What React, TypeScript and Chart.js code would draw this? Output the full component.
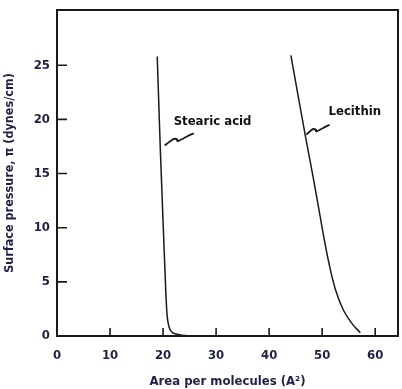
import React, { useEffect, useRef } from "react";
import { Chart, registerables } from "chart.js";

Chart.register(...registerables);

const stearicArea = [18.9, 19.5, 20.2, 20.7, 21.1, 21.7, 22.5, 23.5, 25.4];
const stearicPressure = [25.8, 17.0, 8.0, 2.3, 0.9, 0.35, 0.18, 0.08, 0.0];

const lecithinArea = [44.1, 46.9, 48.4, 50.1, 51.2, 52.5, 54.0, 55.7, 57.2];
const lecithinPressure = [25.9, 18.3, 14.4, 9.7, 6.9, 4.3, 2.4, 1.1, 0.3];

const xTicks = [0, 10, 20, 30, 40, 50, 60];
const yTicks = [0, 5, 10, 15, 20, 25];

const labels = [
  { text: "Stearic acid", x: 22.0, y: 19.8, fx: 25.8, fy: 18.7, tx: 20.3, ty: 17.6 },
  { text: "Lecithin", x: 51.2, y: 20.7, fx: 51.4, fy: 19.5, tx: 47.0, ty: 18.6 },
];

const INK = "#1a1a1a";
const TEXT = "#1e2242";
const FONT = "'DejaVu Sans Condensed', 'DejaVu Sans', sans-serif";

const framePlugin = {
  id: "frame",
  afterDraw(chart: any) {
    const { ctx, chartArea: a, scales } = chart;
    const xs = scales.x;
    const ys = scales.y;
    ctx.save();
    ctx.strokeStyle = INK;
    ctx.lineWidth = 2;
    ctx.strokeRect(a.left, a.top, a.right - a.left, a.bottom - a.top);
    ctx.lineWidth = 1.6;
    ctx.beginPath();
    xTicks.forEach((v) => {
      if (v === 0) return;
      const px = xs.getPixelForValue(v);
      ctx.moveTo(px, a.bottom);
      ctx.lineTo(px, a.bottom - 8);
    });
    yTicks.forEach((v) => {
      if (v === 0) return;
      const py = ys.getPixelForValue(v);
      ctx.moveTo(a.left, py);
      ctx.lineTo(a.left + 10, py);
    });
    ctx.stroke();
    ctx.fillStyle = "#111";
    ctx.font = "bold 13px " + FONT;
    ctx.textBaseline = "middle";
    ctx.textAlign = "left";
    labels.forEach((l) => {
      ctx.fillText(l.text, xs.getPixelForValue(l.x), ys.getPixelForValue(l.y));
      const x0 = xs.getPixelForValue(l.fx);
      const y0 = ys.getPixelForValue(l.fy);
      const x1 = xs.getPixelForValue(l.tx);
      const y1 = ys.getPixelForValue(l.ty);
      ctx.lineWidth = 1.8;
      ctx.beginPath();
      ctx.moveTo(x0, y0);
      const mx = (x0 + x1) / 2;
      const my = (y0 + y1) / 2;
      ctx.bezierCurveTo(mx + 6, my - 3, mx - 4, my + 5, mx - 2, my);
      ctx.bezierCurveTo(mx - 6, my - 3, x1 + 4, y1 - 2, x1, y1);
      ctx.stroke();
    });
    ctx.restore();
  },
};

export default function App() {
  const ref = useRef<HTMLCanvasElement>(null);
  useEffect(() => {
    if (!ref.current) return;
    const chart = new Chart(ref.current, {
      type: "scatter",
      data: {
        datasets: [
          {
            label: "Stearic acid",
            data: stearicArea.map((x, i) => ({ x, y: stearicPressure[i] })),
            showLine: true,
            borderColor: INK,
            borderWidth: 1.5,
            pointRadius: 0,
            cubicInterpolationMode: "monotone",
          },
          {
            label: "Lecithin",
            data: lecithinArea.map((x, i) => ({ x, y: lecithinPressure[i] })),
            showLine: true,
            borderColor: INK,
            borderWidth: 1.5,
            pointRadius: 0,
            tension: 0.4,
          },
        ],
      },
      options: {
        animation: false,
        responsive: true,
        maintainAspectRatio: false,
        layout: { padding: { top: 10, right: 4, left: 0, bottom: 0 } },
        plugins: { legend: { display: false }, tooltip: { enabled: false } },
        scales: {
          x: {
            type: "linear",
            min: 0,
            max: 64.3,
            afterBuildTicks: (s: any) => {
              s.ticks = xTicks.map((v) => ({ value: v }));
            },
            afterFit: (s: any) => {
              s.height = 53;
              s.paddingLeft = 0;
              s.paddingRight = 0;
            },
            grid: { display: false, drawTicks: false },
            border: { display: false },
            ticks: {
              padding: 12,
              color: TEXT,
              font: { family: FONT, size: 13, weight: "bold" },
            },
            title: {
              display: true,
              text: "Area per molecules (A²)",
              color: TEXT,
              padding: { top: 4, bottom: 0 },
              font: { family: FONT, size: 13, weight: "bold" },
            },
          },
          y: {
            type: "linear",
            min: 0,
            max: 30.1,
            afterBuildTicks: (s: any) => {
              s.ticks = yTicks.map((v) => ({ value: v }));
            },
            afterFit: (s: any) => {
              s.width = 57;
              s.paddingTop = 0;
              s.paddingBottom = 0;
            },
            grid: { display: false, drawTicks: false },
            border: { display: false },
            ticks: {
              padding: 7,
              color: TEXT,
              font: { family: FONT, size: 13, weight: "bold" },
            },
            title: {
              display: true,
              text: "Surface pressure, π (dynes/cm)",
              color: TEXT,
              padding: { top: 2, bottom: 4 },
              font: { family: FONT, size: 12.5, weight: "bold" },
            },
          },
        },
      },
      plugins: [framePlugin],
    } as any);
    return () => chart.destroy();
  }, []);
  return (
    <div style={{ position: "absolute", left: 0, top: 0, width: 402, height: 389, background: "#fff" }}>
      <canvas ref={ref} />
    </div>
  );
}
